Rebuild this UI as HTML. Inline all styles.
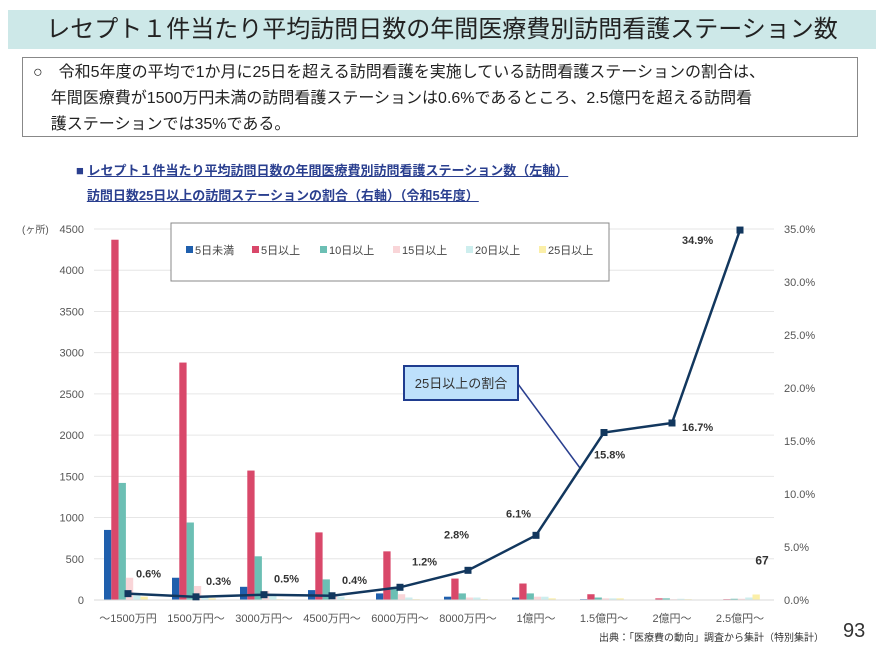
<!DOCTYPE html>
<html><head><meta charset="utf-8"><style>
body{margin:0;background:#fff;font-family:"Liberation Sans","Noto Sans CJK JP",sans-serif}
#wrap{position:relative;width:886px;height:664px;overflow:hidden}
.t{position:absolute}
</style></head><body>
<div id="wrap">
<div class="t" style="left:8px;top:10px;width:868px;height:39px;background:#cde8e8;text-align:center;font-size:24px;line-height:39px;color:#222">レセプト１件当たり平均訪問日数の年間医療費別訪問看護ステーション数</div>
<div class="t" style="left:22px;top:57px;width:836px;height:80px;border:1.5px solid #888;font-size:16px;line-height:26px;color:#222;padding:2px 0 0 10px;box-sizing:border-box">○　令和5年度の平均で1か月に25日を超える訪問看護を実施している訪問看護ステーションの割合は、<br>&nbsp;&nbsp;&nbsp;&nbsp;年間医療費が1500万円未満の訪問看護ステーションは0.6%であるところ、2.5億円を超える訪問看<br>&nbsp;&nbsp;&nbsp;&nbsp;護ステーションでは35%である。</div>
<div class="t" style="left:76px;top:158px;font-size:13px;font-weight:bold;color:#2a3f8f;line-height:25px"><span>■</span> <u>レセプト１件当たり平均訪問日数の年間医療費別訪問看護ステーション数（左軸）</u><br>&nbsp;&nbsp;&nbsp;<u>訪問日数25日以上の訪問ステーションの割合（右軸）（令和5年度）</u></div>
<svg class="t" style="left:0;top:0" width="886" height="664" id="chart"></svg>
</div>
<script>
const categories=["～1500万円","1500万円～","3000万円～","4500万円～","6000万円～","8000万円～","1億円～","1.5億円～","2億円～","2.5億円～"];
const seriesNames=["5日未満","5日以上","10日以上","15日以上","20日以上","25日以上"];
const s5miman=[850,270,160,120,80,40,30,10,5,5];
const s5ijo=[4370,2880,1570,820,590,260,200,70,20,10];
const s10ijo=[1420,940,530,250,160,80,80,30,20,15];
const s15ijo=[270,170,110,60,70,30,40,20,10,15];
const s20ijo=[60,40,50,40,30,30,40,20,15,30];
const s25ijo=[40,20,10,10,10,10,20,20,10,67];
const ratio=[0.6,0.3,0.5,0.4,1.2,2.8,6.1,15.8,16.7,34.9];
const leftTicks=[0,500,1000,1500,2000,2500,3000,3500,4000,4500];
const rightTicks=[0,5,10,15,20,25,30,35];
const colors=["#1f5fad","#d9486a","#6cbfb4","#f9d5d8","#cdeeee","#fbefa8"];
const series=[s5miman,s5ijo,s10ijo,s15ijo,s20ijo,s25ijo];
const NS="http://www.w3.org/2000/svg",svg=document.getElementById('chart');
const X0=94,X1=774,Y0=600,Y1=229;
const bw=(X1-X0)/categories.length;
const xc=i=>X0+bw*(i+0.5);
const yL=v=>Y0-(v/4500)*(Y0-Y1);
const yR=v=>Y0-(v/35)*(Y0-Y1);
function el(t,a,txt){const e=document.createElementNS(NS,t);for(const k in a)e.setAttribute(k,a[k]);if(txt!=null)e.textContent=txt;svg.appendChild(e);return e;}
leftTicks.forEach(v=>{
 const g=el('line',{x1:X0,x2:X1,y1:yL(v),y2:yL(v),stroke:'#e6e6e6','stroke-width':1});
 
 
 const t=el('text',{x:84,y:yL(v)+4,'text-anchor':'end','font-size':11,fill:'#555'},String(v));
 
 
});
rightTicks.forEach(v=>{
 const t=el('text',{x:784,y:yR(v)+4,'font-size':11,fill:'#555'},v.toFixed(1)+'%');
 
 
});
const yt=el('text',{x:22,y:233,'font-size':10,fill:'#555'},'(ヶ所)');


const barW=7.3;
categories.forEach((c,i)=>{
 series.forEach((s,j)=>{
  const x=xc(i)-24+j*barW;
  const r=el('rect',{x:x,y:yL(s[i]),width:barW,height:Y0-yL(s[i]),fill:colors[j]});
  
  
 });
 const t=el('text',{x:xc(i),y:622,'text-anchor':'middle','font-size':11,fill:'#555'},c);
 
 
});
const ax=el('line',{x1:X0,x2:X1,y1:Y0,y2:Y0,stroke:'#d9d9d9'});


const lg=el('rect',{x:171,y:223,width:438,height:58,fill:'#fff',stroke:'#888','stroke-width':1});


const lx=[186,252,320,393,466,539];
seriesNames.forEach((n,j)=>{
 const r=el('rect',{x:lx[j],y:246,width:7,height:7,fill:colors[j]});
 
 
 const t=el('text',{x:lx[j]+9,y:254,'font-size':11,fill:'#444'},n);
 
 
});
const cl=el('line',{x1:518,y1:384,x2:580,y2:468,stroke:'#2a3f8f','stroke-width':1.5});


const cb=el('rect',{x:404,y:366,width:114,height:34,fill:'#bde0fb',stroke:'#1f3c8f','stroke-width':2});


const ct=el('text',{x:461,y:388,'text-anchor':'middle','font-size':13,fill:'#333'},'25日以上の割合');


const pl=el('polyline',{points:ratio.map((v,i)=>xc(i)+','+yR(v)).join(' '),fill:'none',stroke:'#12375e','stroke-width':2.5});


const off=[[8,-16],[10,-12],[10,-12],[10,-12],[12,-22],[-24,-32],[-30,-18],[-10,26],[10,8],[-58,14]];
ratio.forEach((v,i)=>{
 const m=el('rect',{x:xc(i)-3.5,y:yR(v)-3.5,width:7,height:7,fill:'#12375e'});
 
 
 const t=el('text',{x:xc(i)+off[i][0],y:yR(v)+off[i][1],'font-size':11,'font-weight':'bold',fill:'#333'},v.toFixed(1)+'%');
 
 
});
const l67=el('text',{x:xc(9)+22,y:yL(s25ijo[9])-30,'text-anchor':'middle','font-size':12,'font-weight':'bold',fill:'#333'},String(s25ijo[9]));


const src=el('text',{x:824,y:641,'text-anchor':'end','font-size':10,fill:'#333'},'出典：「医療費の動向」調査から集計（特別集計）');


const pg=el('text',{x:843,y:637,'font-size':20,fill:'#333'},'93');


</script>
</body></html>
